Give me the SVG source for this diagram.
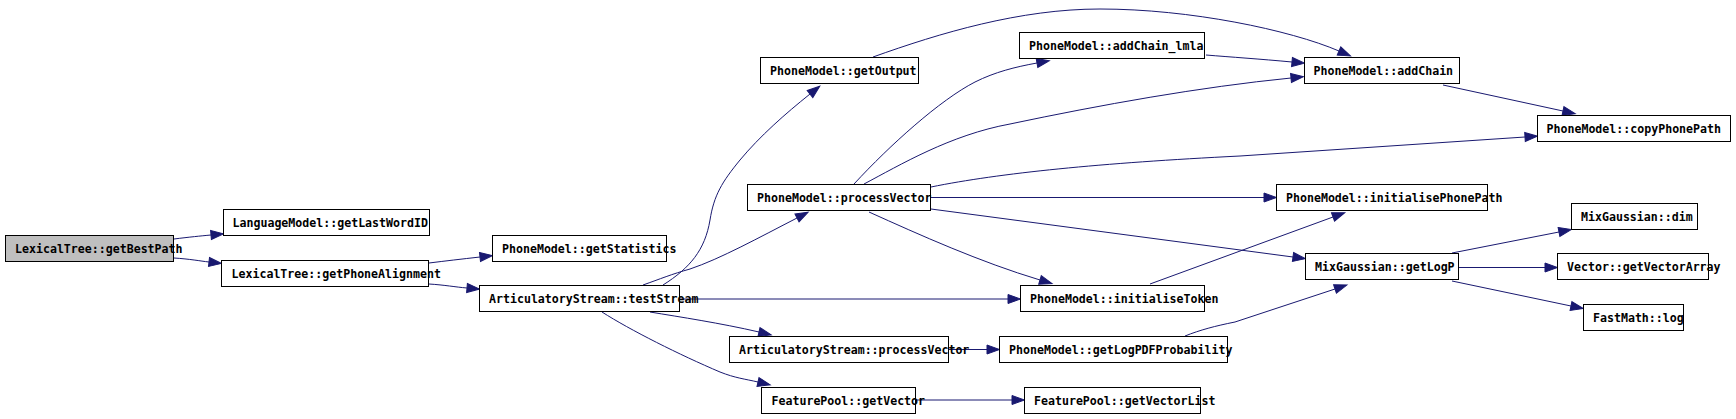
<svg xmlns="http://www.w3.org/2000/svg" width="1736" height="419" viewBox="0 0 1736 419">
<style>
.node rect{fill:#ffffff;stroke:#000000;stroke-width:1}
.node.root rect{fill:#bfbfbf}
.node text{font-family:"DejaVu Sans Mono","Liberation Mono",monospace;font-weight:bold;font-size:11.6px;fill:#000000}
.edges path{fill:none;stroke:#191970;stroke-width:1;marker-end:url(#arr)}
</style>
<defs>
<marker id="arr" markerUnits="userSpaceOnUse" markerWidth="14" markerHeight="11" refX="0" refY="5" orient="auto" overflow="visible">
<path d="M0,0.5 L12.5,5 L0,9.5 z" fill="#191970" stroke="#191970" stroke-width="1"/>
</marker>
</defs>
<rect width="1736" height="419" fill="#ffffff"/>
<g class="edges" id="edges">
<path d="M174,239 C190,237 200,236 211,235"/>
<path d="M174,258 C190,259 200,261 209,262"/>
<path d="M429,263 C445,261 462,259 480,257"/>
<path d="M429,284 C445,285 455,287 467,288"/>
<path d="M663,285 C690,268 705,250 710,220 C714,195 722,182 740,160 C760,136 785,114 810,94"/>
<path d="M643,285 C660,279 672,274 690,269 C720,259 760,237 797,218"/>
<path d="M680,299 L1008,299"/>
<path d="M650,312 C680,317 720,323 759,332"/>
<path d="M602,312 C630,330 680,355 720,372 C735,378 745,379 758,382"/>
<path d="M949,349.5 L987,349.5"/>
<path d="M916,400 L1012,400"/>
<path d="M873,57 C940,33 1020,9 1100,9 C1190,9 1290,30 1339,51"/>
<path d="M1206,55 C1230,57 1260,59 1292,62"/>
<path d="M854,184 C890,145 940,100 975,82 C995,72 1015,67 1037,63"/>
<path d="M864,184 C900,165 950,135 1010,124 C1100,105 1200,87 1291,78"/>
<path d="M931,187 C1000,173 1100,163 1240,156 L1525,137"/>
<path d="M931,197.5 L1264,197.5"/>
<path d="M869,212 C920,235 980,262 1040,280"/>
<path d="M931,209 L1293,257"/>
<path d="M1150,284 L1333,217"/>
<path d="M1185,336 C1200,330 1215,326 1235,322 L1335,289"/>
<path d="M1452,253 L1559,232"/>
<path d="M1459,267.5 L1545,267.5"/>
<path d="M1452,281 L1571,306"/>
<path d="M1443,85 L1563,111"/>
</g>
<g class="node root" id="n1"><rect x="5.5" y="235.5" width="168" height="26"/><text x="15" y="252.5">LexicalTree::getBestPath</text></g>
<g class="node" id="n2"><rect x="223.5" y="209.5" width="206" height="26"/><text x="232.5" y="226.5">LanguageModel::getLastWordID</text></g>
<g class="node" id="n3"><rect x="221.5" y="260.5" width="207" height="26"/><text x="231.5" y="277.5">LexicalTree::getPhoneAlignment</text></g>
<g class="node" id="n4"><rect x="492.5" y="235.5" width="174" height="26"/><text x="502" y="252.5">PhoneModel::getStatistics</text></g>
<g class="node" id="n5"><rect x="479.5" y="285.5" width="200" height="26"/><text x="489" y="302.5">ArticulatoryStream::testStream</text></g>
<g class="node" id="n6"><rect x="760.5" y="57.5" width="158" height="26"/><text x="770" y="74.5">PhoneModel::getOutput</text></g>
<g class="node" id="n7"><rect x="747.5" y="184.5" width="183" height="26"/><text x="757" y="201.5">PhoneModel::processVector</text></g>
<g class="node" id="n8"><rect x="729.5" y="336.5" width="219" height="26"/><text x="739" y="353.5">ArticulatoryStream::processVector</text></g>
<g class="node" id="n9"><rect x="761.5" y="387.5" width="154" height="26"/><text x="771.5" y="404.5">FeaturePool::getVector</text></g>
<g class="node" id="n10"><rect x="1019.5" y="32.5" width="185" height="26"/><text x="1029" y="49.5">PhoneModel::addChain_lmla</text></g>
<g class="node" id="n11"><rect x="1020.5" y="285.5" width="184" height="26"/><text x="1030" y="302.5">PhoneModel::initialiseToken</text></g>
<g class="node" id="n12"><rect x="999.5" y="336.5" width="228" height="26"/><text x="1009" y="353.5">PhoneModel::getLogPDFProbability</text></g>
<g class="node" id="n13"><rect x="1024.5" y="387.5" width="176" height="26"/><text x="1034" y="404.5">FeaturePool::getVectorList</text></g>
<g class="node" id="n14"><rect x="1304.5" y="57.5" width="155" height="26"/><text x="1313.5" y="74.5">PhoneModel::addChain</text></g>
<g class="node" id="n15"><rect x="1276.5" y="184.5" width="211" height="26"/><text x="1286" y="201.5">PhoneModel::initialisePhonePath</text></g>
<g class="node" id="n16"><rect x="1305.5" y="253.5" width="153" height="26"/><text x="1315" y="270.5">MixGaussian::getLogP</text></g>
<g class="node" id="n17"><rect x="1537.5" y="115.5" width="193" height="26"/><text x="1546.5" y="132.5">PhoneModel::copyPhonePath</text></g>
<g class="node" id="n18"><rect x="1571.5" y="203.5" width="126" height="26"/><text x="1581" y="220.5">MixGaussian::dim</text></g>
<g class="node" id="n19"><rect x="1557.5" y="253.5" width="151" height="26"/><text x="1567" y="270.5">Vector::getVectorArray</text></g>
<g class="node" id="n20"><rect x="1583.5" y="304.5" width="100" height="26"/><text x="1593" y="321.5">FastMath::log</text></g>
</svg>
